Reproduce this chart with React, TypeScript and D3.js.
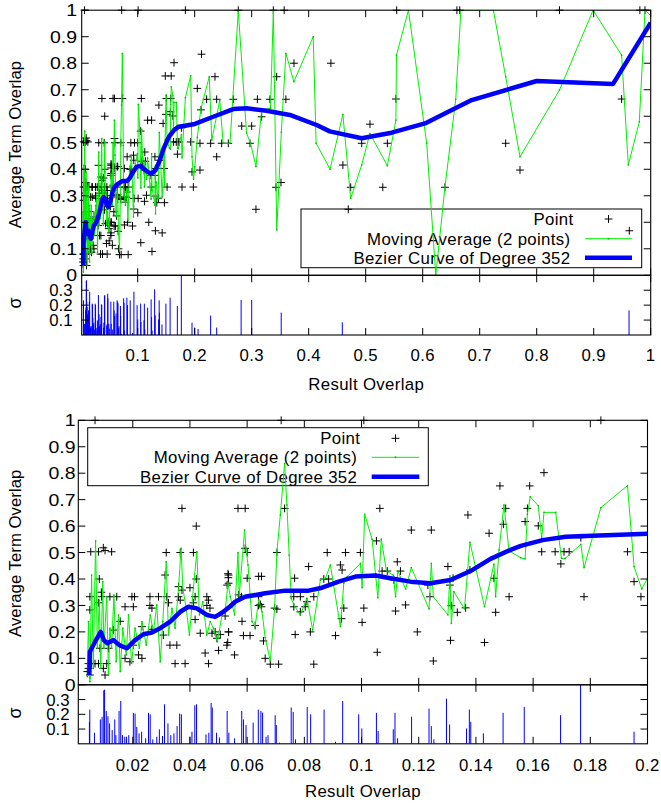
import React from "react";
import * as d3 from "d3";

// ---------------- data ----------------
const points: [number, number][] = [
  [0.0068, 1], [0.0719, 1], [0.1008, 1], [0.1837, 1], [0.2765, 1], [0.338, 1], [0.357, 1], [0.5544, 1], [0.66, 1], [0.665, 1], [0.84, 1], [0.981, 1], [0.99, 1],
  [0.0053, 0.503], [0.008, 0.503], [0.0097, 0.518], [0.0103, 0.508], [0.0126, 0.503],
  [0.0317, 0.5], [0.0366, 0.5], [0.0412, 0.5], [0.0372, 0.667], [0.0422, 0.6],
  [0.0083, 0.4], [0.0313, 0.415], [0.0422, 0.4], [0.04, 0.367], [0.0535, 0.415], [0.053, 0.377],
  [0.005, 0.333], [0.0091, 0.333], [0.012, 0.333], [0.0144, 0.333], [0.0197, 0.333], [0.0206, 0.333], [0.026, 0.333], [0.029, 0.333], [0.0319, 0.333], [0.036, 0.333], [0.0418, 0.333], [0.0459, 0.333],
  [0.009, 0.35], [0.005, 0.283], [0.008, 0.31],
  [0.0173, 0.295], [0.0202, 0.295], [0.0267, 0.29], [0.026, 0.3], [0.0325, 0.31], [0.0366, 0.32], [0.0412, 0.31], [0.0459, 0.3], [0.047, 0.29], [0.0465, 0.32],
  [0.036, 0.371], [0.0372, 0.358], [0.0535, 0.384],
  [0.0156, 0.24], [0.0132, 0.207], [0.0232, 0.22], [0.0267, 0.21], [0.0307, 0.188], [0.033, 0.15], [0.0354, 0.15], [0.0418, 0.247], [0.0436, 0.195], [0.0477, 0.195], [0.0494, 0.176], [0.0488, 0.2], [0.0506, 0.19], [0.0535, 0.2], [0.0529, 0.15], [0.05, 0.13], [0.0453, 0.12], [0.0465, 0.08], [0.0348, 0.08], [0.0383, 0.08],
  [0.0202, 0.15], [0.022, 0.113], [0.0232, 0.1], [0.019, 0.087], [0.0173, 0.1],
  [0.0085, 0.138], [0.0115, 0.138],
  [0.0045, 0.08], [0.0056, 0.08], [0.0068, 0.08], [0.008, 0.08], [0.0097, 0.062], [0.0109, 0.08], [0.0045, 0.062], [0.0041, 0.05], [0.005, 0.037], [0.0103, 0.037],
  [0.0568, 0.667], [0.0593, 0.667], [0.0731, 0.667], [0.0593, 0.516], [0.06, 0.5], [0.0704, 0.5], [0.088, 0.5], [0.0944, 0.5], [0.0996, 0.5], [0.0815, 0.447], [0.0926, 0.453], [0.0932, 0.434], [0.0533, 0.42], [0.0534, 0.405], [0.06, 0.403], [0.064, 0.41], [0.065, 0.41], [0.0766, 0.403], [0.0868, 0.4], [0.0885, 0.4],
  [0.057, 0.34], [0.058, 0.333], [0.064, 0.333], [0.0646, 0.304], [0.065, 0.295], [0.0696, 0.29], [0.0704, 0.286], [0.064, 0.3], [0.0763, 0.333], [0.0763, 0.295], [0.0786, 0.333], [0.0786, 0.276], [0.0803, 0.295], [0.0809, 0.314], [0.0833, 0.333], [0.0938, 0.29], [0.1008, 0.29], [0.093, 0.25], [0.1002, 0.236],
  [0.0523, 0.26], [0.0535, 0.2], [0.0532, 0.16], [0.0556, 0.113], [0.0582, 0.24], [0.0587, 0.186], [0.061, 0.186], [0.0628, 0.224], [0.0657, 0.166], [0.0663, 0.1], [0.0681, 0.078], [0.071, 0.078], [0.0768, 0.19], [0.0821, 0.2], [0.0833, 0.078], [0.0909, 0.186],
  [0.1064, 0.667], [0.1174, 0.585], [0.1244, 0.585], [0.1372, 0.642], [0.1484, 0.752], [0.1504, 0.667], [0.1496, 0.607], [0.1446, 0.573], [0.1052, 0.544], [0.1125, 0.465], [0.1072, 0.43], [0.109, 0.43], [0.1136, 0.43], [0.1113, 0.396], [0.1239, 0.333], [0.1232, 0.377], [0.1302, 0.447], [0.132, 0.403], [0.1309, 0.377], [0.1379, 0.434], [0.1463, 0.403], [0.1516, 0.333],
  [0.1154, 0.302], [0.1119, 0.279], [0.1314, 0.299], [0.1335, 0.274], [0.1364, 0.291], [0.1469, 0.274], [0.1195, 0.2], [0.1311, 0.168], [0.143, 0.16], [0.1055, 0.123], [0.1251, 0.09],
  [0.1638, 0.802], [0.1588, 0.752], [0.158, 0.667], [0.1572, 0.617], [0.1618, 0.601], [0.163, 0.503], [0.1677, 0.503], [0.1708, 0.503], [0.1726, 0.503], [0.1697, 0.457], [0.1767, 0.556], [0.1778, 0.333], [0.193, 0.503], [0.1953, 0.39], [0.1977, 0.333],
  [0.212, 0.834], [0.2356, 0.749], [0.2046, 0.705], [0.221, 0.664], [0.2386, 0.664], [0.2677, 0.664], [0.211, 0.624], [0.31, 0.664], [0.332, 0.664], [0.36, 0.664], [0.3175, 0.598], [0.2825, 0.563], [0.3, 0.563],
  [0.2093, 0.498], [0.228, 0.498], [0.2474, 0.498], [0.259, 0.498], [0.297, 0.498], [0.2386, 0.447], [0.2093, 0.397], [0.3075, 0.249], [0.3426, 0.332], [0.3514, 0.35], [0.3438, 0.749], [0.3742, 0.8],
  [0.439, 0.8], [0.553, 0.665], [0.5075, 0.57], [0.493, 0.498], [0.538, 0.498], [0.46, 0.416], [0.4737, 0.332], [0.4695, 0.249], [0.53, 0.332], [0.639, 0.332], [0.7456, 0.498], [0.7707, 0.397], [0.949, 0.665], [0.9625, 0.168],
];

const movingAvg: [number, number][] = [
  [0.0041, 0.031], [0.0045, 0.239], [0.005, 0.012], [0.0056, 0.415], [0.0062, 0.062], [0.007, 0.544], [0.0076, 0.138], [0.0083, 0.32], [0.0088, 0.062], [0.0095, 0.39], [0.0099, 0.138], [0.0109, 0.333], [0.0115, 0.037], [0.012, 0.214], [0.0126, 0.138], [0.0134, 0.34], [0.0142, 0.087], [0.015, 0.264], [0.0156, 0.05], [0.0165, 0.214], [0.0177, 0.113], [0.0185, 0.264], [0.0196, 0.081], [0.0208, 0.214], [0.0223, 0.138], [0.0232, 0.239], [0.0247, 0.15], [0.0261, 0.264], [0.0272, 0.2], [0.0284, 0.302], [0.0296, 0.087], [0.0305, 0.239], [0.0317, 0.465], [0.0325, 0.188], [0.0337, 0.289], [0.0348, 0.214], [0.036, 0.365], [0.0369, 0.516], [0.0375, 0.365], [0.0387, 0.289], [0.0398, 0.188], [0.0412, 0.365], [0.0424, 0.503], [0.0433, 0.264], [0.0445, 0.314], [0.0459, 0.188], [0.0471, 0.239], [0.0482, 0.214], [0.0496, 0.163], [0.0512, 0.264],
  [0.0523, 0.276], [0.0533, 0.385], [0.0541, 0.333], [0.0556, 0.264], [0.0568, 0.5], [0.0572, 0.333], [0.0591, 0.585], [0.0596, 0.516], [0.0603, 0.453], [0.0617, 0.239], [0.0628, 0.22], [0.064, 0.321], [0.0652, 0.276], [0.0663, 0.178], [0.0681, 0.09], [0.0696, 0.289], [0.0704, 0.503], [0.0716, 0.642], [0.0731, 0.837], [0.0739, 0.68], [0.0747, 0.49], [0.0754, 0.327], [0.0763, 0.302], [0.0786, 0.264], [0.0809, 0.327], [0.0829, 0.207], [0.0856, 0.396], [0.0874, 0.403], [0.0891, 0.453], [0.0926, 0.22], [0.0938, 0.384], [0.095, 0.409], [0.0996, 0.459], [0.1002, 0.367], [0.1011, 0.645], [0.1037, 0.55],
  [0.1057, 0.329], [0.1069, 0.551], [0.1087, 0.43], [0.1111, 0.415], [0.1119, 0.333], [0.1127, 0.43], [0.1154, 0.362], [0.1174, 0.443], [0.1236, 0.287], [0.1244, 0.459], [0.1251, 0.333], [0.1302, 0.264], [0.1309, 0.412], [0.1314, 0.232], [0.1323, 0.352], [0.136, 0.287], [0.1379, 0.539], [0.143, 0.295], [0.1463, 0.456], [0.1469, 0.333], [0.1481, 0.51], [0.1498, 0.68], [0.1516, 0.506], [0.1557, 0.48],
  [0.1572, 0.476], [0.158, 0.645], [0.159, 0.711], [0.1618, 0.677], [0.163, 0.554], [0.1638, 0.652], [0.1679, 0.652], [0.1699, 0.478], [0.1712, 0.478], [0.1767, 0.531], [0.1778, 0.443], [0.1837, 0.67], [0.193, 0.753], [0.1953, 0.447], [0.198, 0.362], [0.2003, 0.409],
  [0.2046, 0.52], [0.211, 0.63], [0.2256, 0.749], [0.23, 0.51], [0.244, 0.66], [0.25, 0.498], [0.262, 0.498], [0.2765, 0.997], [0.291, 0.536], [0.298, 0.498], [0.3075, 0.41], [0.3175, 0.624], [0.333, 0.63], [0.338, 1], [0.344, 0.171], [0.352, 0.54], [0.36, 0.837], [0.374, 0.73], [0.408, 0.9], [0.413, 0.498],
  [0.4375, 0.4], [0.46, 0.607], [0.4737, 0.29], [0.493, 0.416], [0.5075, 0.535], [0.538, 0.413], [0.553, 0.585], [0.554, 0.83], [0.575, 1], [0.607, 0.498], [0.623, 0], [0.639, 0.332], [0.658, 0.664], [0.667, 1], [0.724, 1], [0.7456, 0.749], [0.7707, 0.447], [0.84, 0.699], [0.899, 1], [0.949, 0.83], [0.9607, 0.416], [0.98, 0.579], [0.99, 1], [1, 0.98],
];

const bezier: [number, number][] = [
  [0.0048, 0.037], [0.005, 0.125], [0.0068, 0.163], [0.0088, 0.2], [0.0099, 0.169], [0.0111, 0.157], [0.0132, 0.169], [0.0153, 0.15], [0.0179, 0.138], [0.0208, 0.169], [0.0237, 0.191], [0.0267, 0.198], [0.0296, 0.214], [0.0331, 0.239], [0.0366, 0.276], [0.0395, 0.295], [0.0424, 0.289], [0.0459, 0.264], [0.0488, 0.257], [0.0517, 0.276], [0.0541, 0.297], [0.0558, 0.314], [0.0593, 0.333], [0.0663, 0.346], [0.0733, 0.356], [0.0815, 0.356], [0.0862, 0.367], [0.092, 0.39], [0.0979, 0.409], [0.1049, 0.413], [0.1101, 0.403], [0.1171, 0.39], [0.1241, 0.384], [0.1311, 0.396], [0.1381, 0.43], [0.1451, 0.476], [0.1521, 0.51], [0.1557, 0.525], [0.1633, 0.547], [0.1714, 0.56], [0.1831, 0.564], [0.2003, 0.571],
  [0.2326, 0.598], [0.2677, 0.627], [0.291, 0.63], [0.326, 0.621], [0.367, 0.605], [0.414, 0.567], [0.437, 0.543], [0.493, 0.517], [0.5456, 0.538], [0.604, 0.573], [0.686, 0.661], [0.8, 0.733], [0.934, 0.722], [1, 0.953],
];

const sigma: [number, number][] = [
  [0.00497, 0.232], [0.00483, 0.149], [0.0066, 0.075], [0.00866, 0.165], [0.00926, 0.183], [0.00985, 0.362], [0.01014, 0.367], [0.01073, 0.223], [0.01132, 0.187], [0.0119, 0.138], [0.0128, 0.093], [0.0137, 0.165], [0.0141, 0.059], [0.0152, 0.223], [0.0158, 0.29], [0.0164, 0.059], [0.0172, 0.048], [0.0178, 0.048], [0.0186, 0.059],
  [0.0202, 0.21], [0.0208, 0.205], [0.0214, 0.115], [0.0222, 0.071], [0.0231, 0.082], [0.0245, 0.037], [0.0255, 0.21], [0.0261, 0.2], [0.027, 0.03], [0.0284, 0.048], [0.0293, 0.098], [0.0304, 0.053], [0.0311, 0.268], [0.0323, 0.138], [0.0333, 0.059], [0.0344, 0.071], [0.0355, 0.12], [0.0364, 0.205], [0.037, 0.2],
  [0.04, 0.048], [0.0407, 0.082], [0.0417, 0.261], [0.0423, 0.268], [0.0456, 0.064], [0.0466, 0.075], [0.0474, 0.277], [0.0478, 0.246], [0.0493, 0.075], [0.0503, 0.043], [0.053, 0.223], [0.0536, 0.075], [0.0556, 0.037], [0.0581, 0.223], [0.0587, 0.165], [0.0596, 0.127],
  [0.0621, 0.143], [0.0639, 0.232], [0.0648, 0.223], [0.0654, 0.212], [0.0666, 0.048], [0.0673, 0.059], [0.0698, 0.194], [0.0702, 0.127], [0.0713, 0.008], [0.0754, 0.246], [0.0761, 0.216], [0.0769, 0.03], [0.081, 0.25], [0.0822, 0.2], [0.0869, 0.232], [0.0909, 0.014], [0.0934, 0.29], [0.099, 0.2],
  [0.1001, 0.104], [0.1052, 0.21], [0.1058, 0.087], [0.1111, 0.098], [0.1117, 0.21], [0.1126, 0.037], [0.1175, 0.183], [0.1236, 0.239], [0.1244, 0.12], [0.1253, 0.03], [0.1297, 0.306], [0.1308, 0.131], [0.1367, 0.104], [0.1377, 0.232], [0.1382, 0.149], [0.1426, 0.071], [0.1495, 0.21], [0.1569, 0.25], [0.1696, 0.194], [0.1766, 0.4], [0.1953, 0.082],
  [0.2, 0.05], [0.206, 0.04], [0.228, 0.13], [0.2386, 0.05], [0.2815, 0.235], [0.3, 0.235], [0.3518, 0.15], [0.459, 0.085], [0.962, 0.165],
];

const yTicks = [0, 0.1, 0.2, 0.3, 0.4, 0.5, 0.6, 0.7, 0.8, 0.9, 1];
const yTickLabels = ["0", "0.1", "0.2", "0.3", "0.4", "0.5", "0.6", "0.7", "0.8", "0.9", "1"];
const sigmaTicks = [0.1, 0.2, 0.3];
const sigmaTickLabels = ["0.1", "0.2", "0.3"];
const topXTicks = [0.1, 0.2, 0.3, 0.4, 0.5, 0.6, 0.7, 0.8, 0.9, 1];
const topXTickLabels = ["0.1", "0.2", "0.3", "0.4", "0.5", "0.6", "0.7", "0.8", "0.9", "1"];
const bottomXTicks = [0.02, 0.04, 0.06, 0.08, 0.1, 0.12, 0.14, 0.16, 0.18, 0.2];
const bottomXTickLabels = ["0.02", "0.04", "0.06", "0.08", "0.1", "0.12", "0.14", "0.16", "0.18", "0.2"];
const legendLabels = ["Point", "Moving Average (2 points)", "Bezier Curve of Degree 352"];

// ---------------- drawing ----------------
const FONT = "'Liberation Sans', Arial, Helvetica, sans-serif";
const FS = 16.8;
const LS = 0.35;
const GREEN = "#00f000";
const BLUE = "#0000ff";
const TICK = 7;

type Cfg = {
  id: string;
  left: number; right: number;
  mainTop: number; mainBottom: number; sigBottom: number;
  xDomain: [number, number];
  xTicks: number[]; xTickLabels: string[];
  xLabelY: number; xTitleY: number; yLabelX: number; sigLabelX: number; yTitleCY: number; sigTitleCY: number;
  legend: { left: number; top: number; right: number; bottom: number; textRight: number; rows: number[]; sL: number; sR: number };
};

function Cross({ cx, cy }: { cx: number; cy: number }) {
  const s = 3.9;
  return <path d={`M${cx - s},${cy}H${cx + s}M${cx},${cy - s}V${cy + s}`} stroke="#000" strokeWidth={1} fill="none" />;
}

function Panel({ c }: { c: Cfg }) {
  const x = d3.scaleLinear().domain(c.xDomain).range([c.left, c.right]);
  const y = d3.scaleLinear().domain([0, 1]).range([c.mainBottom, c.mainTop]);
  const ys = d3.scaleLinear().domain([0, 0.4]).range([c.sigBottom, c.mainBottom]);
  const inX = (v: number) => v >= c.xDomain[0] - 1e-9 && v <= c.xDomain[1] + 1e-9;
  const line = d3.line<[number, number]>().x((d) => x(d[0])).y((d) => y(d[1]));
  const W = c.right - c.left;
  const lg = c.legend;
  const txt = { fontFamily: FONT, fontSize: FS, fill: "#000", letterSpacing: LS } as const;
  return (
    <g>
      <defs>
        <clipPath id={`clip-${c.id}`}>
          <rect x={c.left} y={c.mainTop} width={W} height={c.mainBottom - c.mainTop} />
        </clipPath>
        <clipPath id={`clips-${c.id}`}>
          <rect x={c.left} y={c.mainBottom} width={W} height={c.sigBottom - c.mainBottom} />
        </clipPath>
      </defs>
      {/* legend */}
      <rect x={lg.left} y={lg.top} width={lg.right - lg.left} height={lg.bottom - lg.top} fill="none" stroke="#000" strokeWidth={1} />
      {legendLabels.map((t, i) => (
        <text key={t} x={lg.textRight + (i === 0 ? 3 : 0)} y={lg.rows[i]} dy="0.36em" textAnchor="end" {...txt}>{t}</text>
      ))}
      <Cross cx={(lg.sL + lg.sR) / 2} cy={lg.rows[0]} />
      <line x1={lg.sL} x2={lg.sR} y1={lg.rows[1]} y2={lg.rows[1]} stroke={GREEN} strokeWidth={1} />
      <rect x={(lg.sL + lg.sR) / 2 - 0.8} y={lg.rows[1] - 0.8} width={1.6} height={1.6} fill="#00b000" />
      <line x1={lg.sL} x2={lg.sR} y1={lg.rows[2]} y2={lg.rows[2]} stroke={BLUE} strokeWidth={4.5} />

      {/* sigma impulses */}
      <g clipPath={`url(#clips-${c.id})`}>
        {sigma.filter((d) => inX(d[0])).map((d, i) => (
          <line key={i} x1={x(d[0])} x2={x(d[0])} y1={ys(0)} y2={ys(d[1])} stroke={BLUE} strokeWidth={1} />
        ))}
      </g>

      {/* points */}
      {points.filter((d) => inX(d[0])).map((d, i) => (
        <Cross key={i} cx={x(d[0])} cy={y(d[1])} />
      ))}
      {/* moving average and bezier */}
      <g clipPath={`url(#clip-${c.id})`}>
        <path d={line(movingAvg) || ""} fill="none" stroke={GREEN} strokeWidth={1} />
        {movingAvg.filter((d) => inX(d[0])).map((d, i) => (
          <rect key={i} x={x(d[0]) - 0.7} y={y(d[1]) - 0.7} width={1.4} height={1.4} fill="#00b800" />
        ))}
        <path d={line(bezier) || ""} fill="none" stroke={BLUE} strokeWidth={4.5} strokeLinejoin="round" />
      </g>

      {/* frames */}
      <rect x={c.left} y={c.mainTop} width={W} height={c.mainBottom - c.mainTop} fill="none" stroke="#000" strokeWidth={1.1} />
      <rect x={c.left} y={c.mainBottom} width={W} height={c.sigBottom - c.mainBottom} fill="none" stroke="#000" strokeWidth={1.1} />

      {/* main y ticks */}
      {yTicks.map((t, i) => (
        <g key={i}>
          <line x1={c.left} x2={c.left + TICK} y1={y(t)} y2={y(t)} stroke="#000" />
          <line x1={c.right} x2={c.right - TICK} y1={y(t)} y2={y(t)} stroke="#000" />
          <text transform={`translate(${c.yLabelX},${y(t)}) scale(1.16,1)`} dy="0.36em" textAnchor="end" fontFamily={FONT} fontSize={FS} fill="#000">{yTickLabels[i]}</text>
        </g>
      ))}
      {/* sigma y ticks */}
      {sigmaTicks.map((t, i) => (
        <g key={i}>
          <line x1={c.left} x2={c.left + TICK} y1={ys(t)} y2={ys(t)} stroke="#000" />
          <line x1={c.right} x2={c.right - TICK} y1={ys(t)} y2={ys(t)} stroke="#000" />
          <text x={c.sigLabelX} y={ys(t)} dy="0.36em" textAnchor="end" fontFamily={FONT} fontSize={FS} fill="#000">{sigmaTickLabels[i]}</text>
        </g>
      ))}
      {/* x ticks */}
      {c.xTicks.map((t, i) => (
        <g key={i}>
          <line x1={x(t)} x2={x(t)} y1={c.mainTop} y2={c.mainTop + TICK} stroke="#000" />
          <line x1={x(t)} x2={x(t)} y1={c.mainBottom} y2={c.mainBottom - TICK} stroke="#000" />
          <line x1={x(t)} x2={x(t)} y1={c.mainBottom} y2={c.mainBottom + TICK} stroke="#000" />
          <line x1={x(t)} x2={x(t)} y1={c.sigBottom} y2={c.sigBottom - TICK} stroke="#000" />
          <text x={x(t)} y={c.xLabelY} textAnchor="middle" {...txt}>{c.xTickLabels[i]}</text>
        </g>
      ))}
      {/* titles */}
      <text x={(c.left + c.right) / 2} y={c.xTitleY} textAnchor="middle" {...txt}>Result Overlap</text>
      <text transform={`translate(15,${c.yTitleCY}) rotate(-90)`} dy="0.36em" textAnchor="middle" fontFamily={FONT} fontSize={FS} fill="#000">Average Term Overlap</text>
      <text transform={`translate(16,${c.sigTitleCY}) rotate(-90)`} dy="0.3em" textAnchor="middle" fontFamily={FONT} fontSize={FS + 1} fill="#000">σ</text>
    </g>
  );
}

const topCfg: Cfg = {
  id: "top", left: 81.7, right: 650.7, mainTop: 10.2, mainBottom: 275.3, sigBottom: 335,
  xDomain: [0.0018, 1], xTicks: topXTicks, xTickLabels: topXTickLabels,
  xLabelY: 360.7, xTitleY: 390, yLabelX: 77, sigLabelX: 72.5, yTitleCY: 144.5, sigTitleCY: 303,
  legend: { left: 301, top: 209, right: 641.7, bottom: 267.7, textRight: 570.5, rows: [219, 238.7, 257.7], sL: 585, sR: 632 },
};
const bottomCfg: Cfg = {
  id: "bot", left: 78.3, right: 647.5, mainTop: 420.3, mainBottom: 684.8, sigBottom: 743.8,
  xDomain: [0.00095, 0.2], xTicks: bottomXTicks, xTickLabels: bottomXTickLabels,
  xLabelY: 770.7, xTitleY: 797, yLabelX: 75.5, sigLabelX: 69.5, yTitleCY: 553.3, sigTitleCY: 713,
  legend: { left: 87.7, top: 427.7, right: 428.3, bottom: 485.7, textRight: 357.2, rows: [438.3, 457.3, 476.7], sL: 371.7, sR: 419.3 },
};

export default function App() {
  return (
    <svg width={661} height={804} viewBox="0 0 661 804" style={{ position: "absolute", left: 0, top: 0, background: "#fff" }}>
      <rect width={661} height={804} fill="#fff" />
      <Panel c={topCfg} />
      <Panel c={bottomCfg} />
    </svg>
  );
}
